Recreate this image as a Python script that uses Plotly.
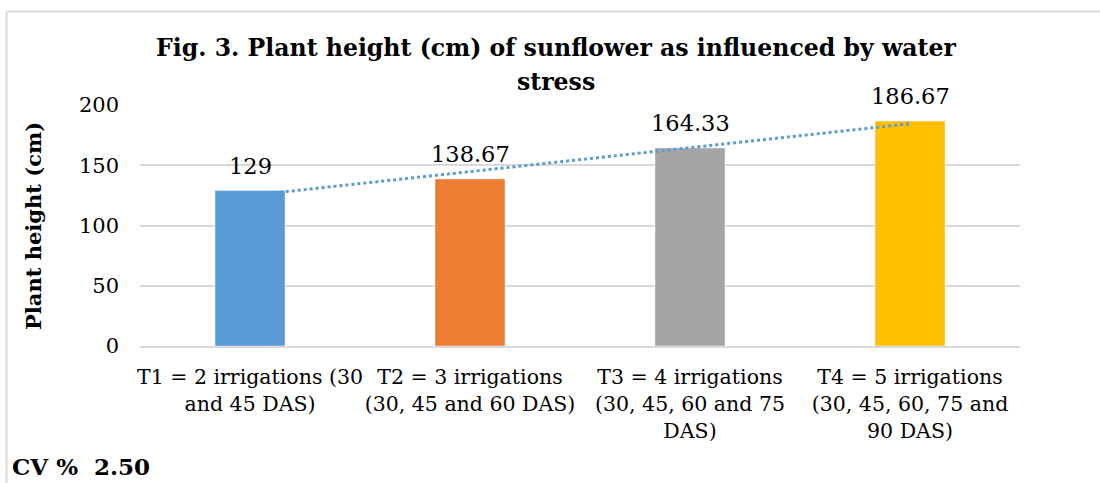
import plotly.graph_objects as go
import numpy as np

categories = ["T1 = 2 irrigations (30<br>and 45 DAS)",
              "T2 = 3 irrigations<br>(30, 45 and 60 DAS)",
              "T3 = 4 irrigations<br>(30, 45, 60 and 75<br>DAS)",
              "T4 = 5 irrigations<br>(30, 45, 60, 75 and<br>90 DAS)"]
heights = [129, 138.67, 164.33, 186.67]
labels = ["129", "138.67", "164.33", "186.67"]
colors = ["#5B9BD5", "#ED7D31", "#A5A5A5", "#FFC000"]
y_ticks = [0, 50, 100, 150, 200]

FONT = "DejaVu Serif"
W, H = 1100, 483
L, R, T, B = 140, 80, 105, 137
PW, PH = W - L - R, H - T - B


def px(xp):
    return (xp - L) / PW


def py(yp):
    return (H - B - yp) / PH


x_idx = np.arange(len(heights))
slope, intercept = np.polyfit(x_idx, heights, 1)
trend = slope * x_idx + intercept

fig = go.Figure()
fig.add_trace(go.Bar(
    x=categories, y=heights, marker_color=colors, width=0.318,
    showlegend=False))
fig.add_trace(go.Scatter(
    x=categories, y=trend, mode="lines",
    line=dict(color="#5B9BD5", width=3, dash="dot"),
    showlegend=False))
for c, v, t in zip(categories, heights, labels):
    fig.add_annotation(x=c, y=v, text=t, showarrow=False, yanchor="bottom", yshift=10,
                       font=dict(family=FONT, size=22.5, color="#000000"))

fig.update_layout(
    width=W, height=H,
    margin=dict(l=L, r=R, t=T, b=B),
    paper_bgcolor="white", plot_bgcolor="white",
    yaxis=dict(range=[0, 200], tickvals=y_ticks, showgrid=True, gridcolor="#D9D9D9",
               gridwidth=1.5, zeroline=False, showline=False,
               tickfont=dict(family=FONT, size=21, color="#000000"), ticks="",
               ticklabelstandoff=20),
    xaxis=dict(showline=True, linecolor="#D9D9D9", linewidth=1.5, ticks="",
               range=[-0.5, 3.5], ticklabelstandoff=12,
               tickfont=dict(family=FONT, size=20.5, color="#000000"), tickangle=0),
)
# chart-area border (top and left edges visible)
fig.add_shape(type="line", xref="paper", yref="paper", x0=px(6.5), x1=px(1100), y0=py(11.5), y1=py(11.5),
              line=dict(color="#D9D9D9", width=2))
fig.add_shape(type="line", xref="paper", yref="paper", x0=px(6.5), x1=px(6.5), y0=py(11.5), y1=py(483),
              line=dict(color="#D9D9D9", width=2))

fig.add_annotation(text="<b>Fig. 3. Plant height (cm) of sunflower as influenced by water</b>",
                   xref="paper", yref="paper", x=px(556), y=py(48), xanchor="center", yanchor="middle",
                   showarrow=False, font=dict(family=FONT, size=23.6, color="#000000"))
fig.add_annotation(text="<b>stress</b>",
                   xref="paper", yref="paper", x=px(556), y=py(82), xanchor="center", yanchor="middle",
                   showarrow=False, font=dict(family=FONT, size=23.6, color="#000000"))
fig.add_annotation(text="<b>Plant height (cm)</b>", textangle=-90,
                   xref="paper", yref="paper", x=px(33), y=py(226), xanchor="center", yanchor="middle",
                   showarrow=False, font=dict(family=FONT, size=21, color="#000000"))
fig.add_annotation(text="<b>CV %  2.50</b>", xref="paper", yref="paper",
                   x=px(10), y=py(466), xanchor="left", yanchor="middle", showarrow=False,
                   font=dict(family=FONT, size=23, color="#000000"))

fig.write_html("out.html", config={"displayModeBar": False},
               post_script="document.body.style.margin='0';")
